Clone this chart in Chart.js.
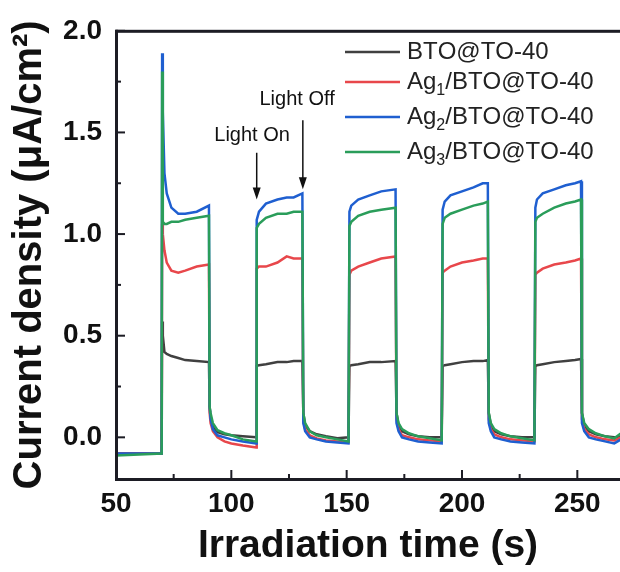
<!DOCTYPE html>
<html>
<head>
<meta charset="utf-8">
<script src="https://cdn.jsdelivr.net/npm/chart.js@4.4.1/dist/chart.umd.min.js"></script>
<style>
  html, body { margin: 0; padding: 0; background: #fff; }
  #wrap { width: 620px; height: 572px; position: relative; }
</style>
</head>
<body>
<div id="wrap"><canvas id="chart"></canvas></div>
<script>
// photocurrent response, light chopped every ~20 s
const times = [
  50, 69.8, 70, 70.3, 71, 72, 74, 77, 80, 85, 90.3,
  90.6, 91, 92, 94, 97, 100, 105, 110.8,
  111, 112, 115, 120, 124, 127, 130.8,
  131.2, 132, 134, 137, 141, 146, 150.8,
  151.2, 152, 155, 160, 165, 171.2,
  171.6, 172.5, 174, 177, 181, 186, 191.2,
  191.6, 192.5, 195, 200, 205, 209, 211.2,
  211.6, 212.5, 214, 217, 221, 226, 231.4,
  231.8, 232.5, 235, 240, 245, 249, 251.6,
  252, 253, 255, 258, 262, 266, 269
];

const bto = [
  -0.08, -0.08, 0.57, 0.50, 0.42, 0.41, 0.40, 0.39, 0.38, 0.375, 0.37,
  0.15, 0.10, 0.05, 0.025, 0.015, 0.01, 0.005, 0.0,
  0.35, 0.355, 0.36, 0.37, 0.37, 0.375, 0.375,
  0.12, 0.06, 0.03, 0.015, 0.005, -0.005, 0.0,
  0.35, 0.355, 0.36, 0.37, 0.37, 0.375,
  0.12, 0.06, 0.03, 0.015, 0.005, 0.0, 0.0,
  0.35, 0.355, 0.36, 0.37, 0.375, 0.375, 0.38,
  0.12, 0.06, 0.03, 0.015, 0.005, 0.0, 0.0,
  0.35, 0.355, 0.36, 0.37, 0.375, 0.38, 0.385,
  0.12, 0.06, 0.03, 0.015, 0.005, 0.0, 0.0
];

const ag1 = [
  -0.08, -0.08, 1.05, 1.00, 0.92, 0.86, 0.82, 0.81, 0.82, 0.84, 0.85,
  0.12, 0.07, 0.03, 0.0, -0.02, -0.03, -0.04, -0.05,
  0.83, 0.84, 0.84, 0.86, 0.89, 0.88, 0.88,
  0.08, 0.04, 0.01, -0.005, -0.015, -0.02, -0.025,
  0.80, 0.82, 0.84, 0.86, 0.88, 0.89,
  0.09, 0.04, 0.01, 0.0, -0.01, -0.015, -0.02,
  0.81, 0.82, 0.84, 0.86, 0.87, 0.88, 0.88,
  0.09, 0.04, 0.015, 0.0, -0.01, -0.015, -0.02,
  0.80, 0.81, 0.83, 0.85, 0.86, 0.87, 0.88,
  0.09, 0.04, 0.015, 0.0, -0.01, -0.015, 0.0
];

const ag2 = [
  -0.08, -0.08, 1.89, 1.60, 1.30, 1.20, 1.13, 1.10, 1.10, 1.11, 1.14,
  0.15, 0.09, 0.04, 0.01, 0.0, -0.01, -0.02, -0.03,
  1.07, 1.11, 1.15, 1.17, 1.18, 1.18, 1.20,
  0.07, 0.03, 0.0, -0.01, -0.02, -0.025, -0.03,
  1.11, 1.14, 1.17, 1.19, 1.21, 1.22,
  0.07, 0.03, 0.0, -0.01, -0.02, -0.025, -0.03,
  1.12, 1.16, 1.19, 1.21, 1.23, 1.25, 1.25,
  0.07, 0.03, 0.0, -0.01, -0.02, -0.025, -0.03,
  1.13, 1.17, 1.20, 1.22, 1.24, 1.25, 1.26,
  0.07, 0.03, 0.0, -0.01, -0.02, -0.03, -0.01
];

const ag3 = [
  -0.09, -0.08, 1.80, 1.06, 1.05, 1.05, 1.06, 1.06, 1.07, 1.08, 1.09,
  0.15, 0.12, 0.07, 0.035, 0.02, 0.01, -0.01, -0.02,
  1.03, 1.05, 1.08, 1.10, 1.10, 1.11, 1.11,
  0.12, 0.07, 0.03, 0.01, 0.0, -0.01, -0.02,
  1.04, 1.06, 1.09, 1.11, 1.12, 1.13,
  0.12, 0.07, 0.04, 0.02, 0.005, -0.005, -0.015,
  1.05, 1.08, 1.10, 1.12, 1.14, 1.15, 1.16,
  0.12, 0.07, 0.04, 0.02, 0.005, -0.005, -0.015,
  1.06, 1.08, 1.10, 1.13, 1.15, 1.16, 1.17,
  0.12, 0.07, 0.04, 0.02, 0.005, -0.005, 0.02
];

const names = ["BTO@TO-40", "Ag₁/BTO@TO-40", "Ag₂/BTO@TO-40", "Ag₃/BTO@TO-40"];
const colors = ["#404040", "#e8474b", "#1f5fd0", "#2a9d5a"];

const xMin = 50, xMax = 268.5;
const yMin = -0.205, yMax = 2.0;
const xTicks = [50, 100, 150, 200, 250];
const xMinor = [75, 125, 175, 225];
const yTicks = [0, 0.5, 1.0, 1.5, 2.0];
const yMinor = [0.25, 0.75, 1.25, 1.75];

// arrows: x, label position, arrow top y, arrow tip y
const noteText = ["Light On", "Light Off"];
const noteX = [111, 131];
const noteLabelX = [109, 128.5];
const noteLabelY = [1.485, 1.66];
const noteTop = [1.40, 1.56];
const noteTip = [1.17, 1.22];

const FONT = "'Liberation Sans', Arial, sans-serif";
const INK = "#111111";
const AXIS = "#1c1c24";

const toPts = (arr) => arr.map((v, i) => ({ x: times[i], y: v }));

const series = [bto, ag1, ag2, ag3];

const frame = {
  id: "frame",
  afterDraw(chart) {
    const ctx = chart.ctx;
    const a = chart.chartArea;
    const xs = chart.scales.x;
    const ys = chart.scales.y;
    ctx.save();

    // box: top, left, bottom (right runs off the page)
    ctx.fillStyle = AXIS;
    ctx.fillRect(a.left - 1, a.top - 1, a.right - a.left + 2, 3);
    ctx.fillRect(a.left - 1, a.top - 1, 3, a.bottom - a.top + 2);
    ctx.fillRect(a.left - 1, a.bottom - 1, a.right - a.left + 2, 3);

    // inward ticks
    xTicks.forEach((v) => ctx.fillRect(xs.getPixelForValue(v) - 1, a.bottom - 9, 2, 9));
    xMinor.forEach((v) => ctx.fillRect(xs.getPixelForValue(v) - 1, a.bottom - 5, 2, 5));
    yTicks.forEach((v) => ctx.fillRect(a.left, ys.getPixelForValue(v) - 1, 9, 2));
    yMinor.forEach((v) => ctx.fillRect(a.left, ys.getPixelForValue(v) - 1, 5, 2));

    // legend
    const rows = [52, 82, 117, 152];
    names.forEach((name, i) => {
      const y = rows[i];
      ctx.strokeStyle = colors[i];
      ctx.lineWidth = 2.5;
      ctx.beginPath();
      ctx.moveTo(345, y);
      ctx.lineTo(400, y);
      ctx.stroke();

      ctx.fillStyle = "#222";
      ctx.textBaseline = "middle";
      ctx.textAlign = "left";
      let x = 407;
      for (const ch of name) {
        const sub = "₁₂₃".indexOf(ch);
        if (sub >= 0) {
          ctx.font = "16px " + FONT;
          ctx.fillText(String(sub + 1), x, y + 9);
          x += ctx.measureText(String(sub + 1)).width;
        } else {
          ctx.font = "24px " + FONT;
          ctx.fillText(ch, x, y);
          x += ctx.measureText(ch).width;
        }
      }
    });

    // light on / off arrows
    ctx.strokeStyle = INK;
    ctx.fillStyle = INK;
    noteText.forEach((t, i) => {
      const px = xs.getPixelForValue(noteX[i]);
      const top = ys.getPixelForValue(noteTop[i]);
      const tip = ys.getPixelForValue(noteTip[i]);
      ctx.lineWidth = 1.5;
      ctx.beginPath();
      ctx.moveTo(px, top);
      ctx.lineTo(px, tip - 8);
      ctx.stroke();
      ctx.beginPath();
      ctx.moveTo(px - 4, tip - 12);
      ctx.lineTo(px + 4, tip - 12);
      ctx.lineTo(px, tip);
      ctx.closePath();
      ctx.fill();

      ctx.font = "20px " + FONT;
      ctx.textAlign = "center";
      ctx.textBaseline = "middle";
      ctx.fillText(t, xs.getPixelForValue(noteLabelX[i]), ys.getPixelForValue(noteLabelY[i]));
    });

    ctx.restore();
  },
};

new Chart(document.getElementById("chart"), {
  type: "line",
  data: {
    datasets: series.map((s, i) => ({
      label: names[i],
      data: toPts(s),
      borderColor: colors[i],
      backgroundColor: colors[i],
      borderWidth: 2.5,
      pointRadius: 0,
      tension: 0,
      fill: false,
      order: 4 - i,
    })),
  },
  options: {
    animation: false,
    responsive: true,
    maintainAspectRatio: false,
    layout: { padding: { top: 27, right: 0, left: 0, bottom: 0 } },
    plugins: {
      legend: { display: false },
      tooltip: { enabled: false },
    },
    scales: {
      x: {
        type: "linear",
        min: xMin,
        max: xMax,
        afterBuildTicks: (s) => {
          s.ticks = xTicks.map((v) => ({ value: v }));
        },
        afterFit: (s) => {
          s.height = 93;
        },
        grid: { display: false, drawTicks: false },
        border: { display: false },
        ticks: {
          color: INK,
          padding: 8,
          maxRotation: 0,
          font: { family: FONT, size: 28, weight: "bold" },
        },
        title: {
          display: true,
          text: "Irradiation time (s)",
          color: INK,
          padding: { top: 0, bottom: 2 },
          font: { family: FONT, size: 39, weight: "bold" },
        },
      },
      y: {
        type: "linear",
        min: yMin,
        max: yMax,
        afterBuildTicks: (s) => {
          s.ticks = yTicks.map((v) => ({ value: v }));
        },
        afterFit: (s) => {
          s.width = 116;
        },
        grid: { display: false, drawTicks: false },
        border: { display: false },
        ticks: {
          color: INK,
          padding: 14,
          font: { family: FONT, size: 28, weight: "bold" },
          callback: (v) => v.toFixed(1),
        },
        title: {
          display: true,
          text: "Current density (μA/cm²)",
          color: INK,
          padding: { top: 6, bottom: 0 },
          font: { family: FONT, size: 40, weight: "bold" },
        },
      },
    },
  },
  plugins: [frame],
});
</script>
</body>
</html>
